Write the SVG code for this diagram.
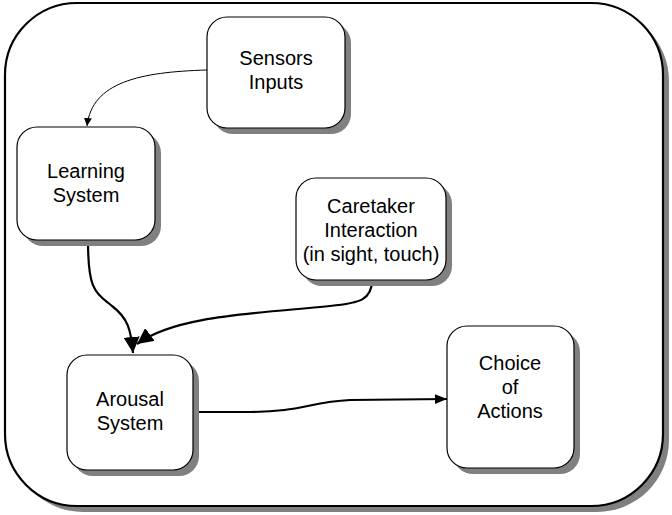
<svg xmlns="http://www.w3.org/2000/svg" width="672" height="515" viewBox="0 0 672 515">
  <style>
    .shadow { fill: #808080; stroke: none; }
    .box { fill: #ffffff; stroke: #000000; stroke-width: 1.2; }
    .frame { fill: #ffffff; stroke: #000000; stroke-width: 2.2; }
    .label { font-family: "Liberation Sans", Arial, Helvetica, sans-serif; font-size: 20px; fill: #000000; text-anchor: middle; }
    .thin { fill: none; stroke: #000000; stroke-width: 1; }
    .thick { fill: none; stroke: #000000; stroke-width: 2.2; }
  </style>
  <defs>
    <marker id="arrowSmall" viewBox="0 0 10 10" refX="10" refY="5" markerWidth="8" markerHeight="8" markerUnits="userSpaceOnUse" orient="auto">
      <path d="M0,0 L10,5 L0,10 z" fill="#000000"/>
    </marker>
    <marker id="arrowBig" viewBox="0 0 10 10" refX="10" refY="5" markerWidth="16" markerHeight="16" markerUnits="userSpaceOnUse" orient="auto">
      <path d="M0,0 L10,5 L0,10 z" fill="#000000"/>
    </marker>
    <marker id="arrowMid" viewBox="0 0 10 10" refX="10" refY="5" markerWidth="14" markerHeight="12" markerUnits="userSpaceOnUse" orient="auto">
      <path d="M0,1 L10,5 L0,9 z" fill="#000000"/>
    </marker>
  </defs>

  <!-- outer container -->
  <g id="frame">
    <rect class="shadow" x="11" y="9" width="658" height="503" rx="72" ry="72"/>
    <rect class="frame" x="5" y="3" width="658" height="503" rx="72" ry="72"/>
  </g>

  <!-- connectors -->
  <g id="connectors">
    <path class="thin" d="M207,70 C140,72 92,82 87,126" marker-end="url(#arrowSmall)"/>
    <path class="thick" d="M88,241 C88,290 95,292 112,306 C128,318 131,330 133,353" marker-end="url(#arrowBig)"/>
    <path class="thick" d="M372,280 C372,300 360,303 330,306 C250,314 175,316 137,344" marker-end="url(#arrowBig)"/>
    <path class="thick" d="M193,412 L250,412 C300,412 310,402 350,400 L447,399" marker-end="url(#arrowMid)"/>
  </g>

  <g id="sensors">
    <rect class="shadow" x="213" y="23" width="138" height="111" rx="20" ry="20"/>
    <rect class="box" x="207" y="17" width="138" height="111" rx="20" ry="20"/>
    <text class="label" x="276" y="65">Sensors</text>
    <text class="label" x="276" y="89">Inputs</text>
  </g>

  <g id="learning">
    <rect class="shadow" x="23" y="133" width="138" height="113" rx="20" ry="20"/>
    <rect class="box" x="17" y="127" width="138" height="113" rx="20" ry="20"/>
    <text class="label" x="86" y="178">Learning</text>
    <text class="label" x="86" y="202">System</text>
  </g>

  <g id="caretaker">
    <rect class="shadow" x="302" y="184" width="150" height="102" rx="20" ry="20"/>
    <rect class="box" x="296" y="178" width="150" height="102" rx="20" ry="20"/>
    <text class="label" x="371" y="213">Caretaker</text>
    <text class="label" x="371" y="237">Interaction</text>
    <text class="label" x="371" y="261">(in sight, touch)</text>
  </g>

  <g id="arousal">
    <rect class="shadow" x="73" y="361" width="126" height="115" rx="20" ry="20"/>
    <rect class="box" x="67" y="355" width="126" height="115" rx="20" ry="20"/>
    <text class="label" x="130" y="406">Arousal</text>
    <text class="label" x="130" y="430">System</text>
  </g>

  <g id="choice">
    <rect class="shadow" x="453" y="332" width="127" height="142" rx="20" ry="20"/>
    <rect class="box" x="447" y="326" width="127" height="142" rx="20" ry="20"/>
    <text class="label" x="510" y="370">Choice</text>
    <text class="label" x="510" y="394">of</text>
    <text class="label" x="510" y="418">Actions</text>
  </g>
</svg>
